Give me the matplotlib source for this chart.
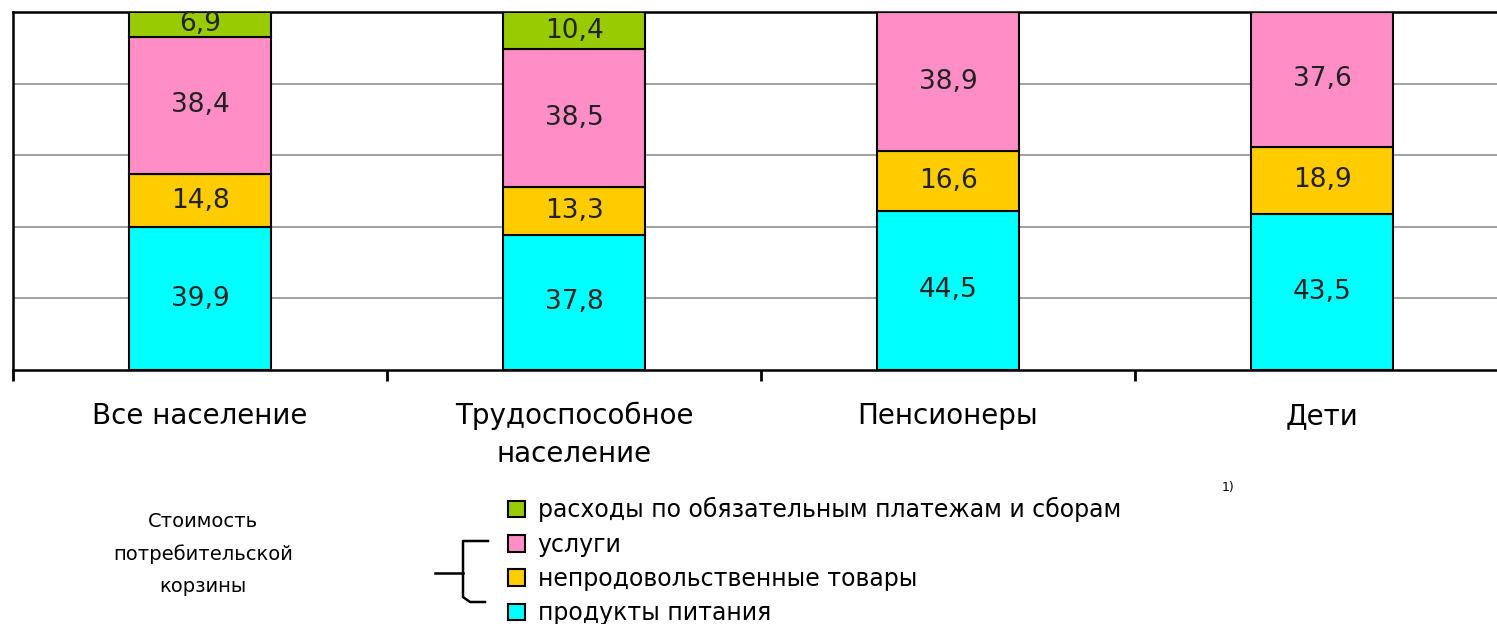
import numpy as np
import matplotlib
matplotlib.use('Agg')
import matplotlib.pyplot as plt
from matplotlib.lines import Line2D

categories = ['Все население', 'Трудоспособное\nнаселение', 'Пенсионеры', 'Дети']
food = [39.9, 37.8, 44.5, 43.5]
nonfood = [14.8, 13.3, 16.6, 18.9]
services = [38.4, 38.5, 38.9, 37.6]
fees = [6.9, 10.4, 0, 0]

series_names = ['продукты питания', 'непродовольственные товары', 'услуги',
                'расходы по обязательным платежам и сборам']
colors = ['#00FFFF', '#FFCC00', '#FF8EC6', '#99CC00']

W, H = 1497, 624
fig = plt.figure(figsize=(W / 100, H / 100), dpi=100)
ax = fig.add_axes([13 / W, 1 - 370 / H, (W - 13) / W, 358 / H])

x = np.arange(len(categories))
bottom = np.zeros(len(categories))
containers = []
for vals, col in zip([food, nonfood, services, fees], colors):
    vals = np.array(vals)
    c = ax.bar(x, vals, 0.382, bottom=bottom, color=col, edgecolor='black',
               linewidth=1.5, zorder=3)
    labels = [('%.1f' % v).replace('.', ',') if v > 0 else '' for v in vals]
    ax.bar_label(c, labels=labels, label_type='center', fontsize=19,
                 color='#222222')
    containers.append(c)
    bottom += vals

ax.set_yticks([20, 40, 60, 80])
ax.yaxis.grid(True, color='#999999', linewidth=1.3, zorder=0)
ax.tick_params(axis='y', length=0, labelleft=False)

ax.set_xticks(x)
ax.set_xticklabels(categories, fontsize=20)
for t in ax.get_xticklabels():
    t.set_linespacing(1.45)
ax.set_xticks(np.arange(-0.5, 3.5, 1), minor=True)
ax.tick_params(axis='x', which='major', length=0, pad=23)
ax.tick_params(axis='x', which='minor', length=8, width=2, direction='out')

ax.set_xlim(-0.5, -0.5 + (W - 13) / 374)
ax.set_ylim(0, 100)

ax.spines['right'].set_visible(False)
for s in ['left', 'bottom', 'top']:
    ax.spines[s].set_linewidth(1.8)
    ax.spines[s].set_color('black')

# legend
handles = containers[::-1]
fig.legend(handles, series_names[::-1], loc='upper left',
           bbox_to_anchor=(508 / W, 1 - 497 / H), frameon=False,
           fontsize=17, handlelength=0.7, handleheight=0.7,
           handletextpad=0.55, labelspacing=0.44, borderpad=0,
           borderaxespad=0)
fig.text(1222 / W, 1 - 487 / H, '1)', fontsize=9, ha='left', va='center')

fig.text(203 / W, 1 - 554 / H, 'Стоимость\nпотребительской\nкорзины',
         fontsize=14, ha='center', va='center', linespacing=1.88,
         multialignment='center')

# bracket
def px(xs, ys):
    return [v / W for v in xs], [1 - v / H for v in ys]

for xs, ys in [([488, 463, 463, 470, 485], [541, 541, 597, 602, 602]),
               ([435, 463], [573, 573])]:
    fx, fy = px(xs, ys)
    fig.add_artist(Line2D(fx, fy, transform=fig.transFigure, color='black',
                          linewidth=1.8))

fig.savefig('out.png', dpi=100)
